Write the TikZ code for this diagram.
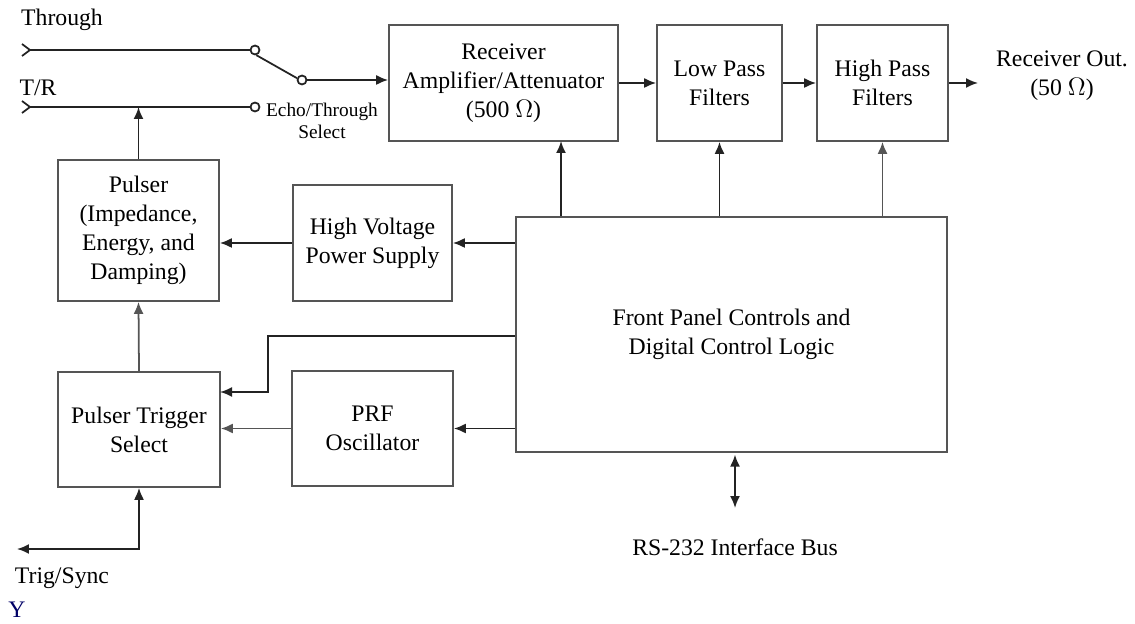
\documentclass[tikz,border=0pt]{standalone}
\usepackage{fontspec}
\setmainfont{Liberation Serif}
\usetikzlibrary{arrows.meta, positioning, calc}
\definecolor{cLine}{RGB}{35,35,35}
\definecolor{cBox}{RGB}{85,85,85}
\tikzset{
	blk/.style    ={rectangle, draw=cBox, line width=1pt, align=center, inner sep=2pt},
	sig/.style    ={-{Latex[length=2.4mm,width=2mm]}, line width=1pt, draw=cLine},
	sigboth/.style={{Latex[length=2.4mm,width=2mm]}-{Latex[length=2.4mm,width=2mm]}, line width=1pt, draw=cLine},
	wire/.style   ={line width=1pt, draw=cLine},
	port/.style   ={circle, draw=cLine, line width=1pt, minimum size=0.18cm, inner sep=0pt},
	lbl/.style    ={align=center, inner sep=1pt},
}

\begin{document}
\begin{tikzpicture}[x=0.02cm, y=-0.02cm, font=\fontsize{13.5}{16.5}\selectfont]
	\useasboundingbox (0,0) rectangle (1135,624);
	% receiver chain
	\node[blk, minimum width=4.58cm, minimum height=2.32cm] (rx)  at (503.5,83) {Receiver\\Amplifier/Attenuator\\(500 $\Omega$)};
	\node[blk, minimum width=2.5cm,  minimum height=2.32cm] (lpf) at (719.5,83) {Low Pass\\Filters};
	\node[blk, minimum width=2.62cm, minimum height=2.32cm] (hpf) at (882.5,83) {High Pass\\Filters};
	\node[lbl] (out) at (1062,76) {Receiver Out.\\(50 $\Omega$)};
	\coordinate (outend) at (978,83);
	% control and pulser blocks
	\node[blk, minimum width=8.62cm, minimum height=4.7cm]  (fp)  at (731.5,334.5) {Front Panel Controls and\\Digital Control Logic};
	\node[blk, minimum width=3.18cm, minimum height=2.32cm] (hv)  at (372.5,243) {High Voltage\\Power Supply};
	\node[blk, minimum width=3.22cm, minimum height=2.3cm]  (prf) at (372.5,428.5) {PRF\\Oscillator};
	\node[blk, minimum width=3.22cm, minimum height=2.82cm] (pul) at (138.5,230.5) {Pulser\\(Impedance,\\Energy, and\\Damping)};
	\node[blk, minimum width=3.24cm, minimum height=2.3cm]  (pts) at (139,429.5) {Pulser Trigger\\Select};
	% inputs and switch
	\node[lbl] (thrtxt) at (62,20) {Through};
	\node[lbl] (trtxt)  at (38,88) {T/R};
	\coordinate (thr) at (30,50);
	\coordinate (tr)  at (30,107);
	\node[port] (c1) at (255,50) {};
	\node[port] (c2) at (302,80) {};
	\node[port] (c3) at (255,107) {};
	\node[lbl, font=\fontsize{11}{12.5}\selectfont] (echo) at (322,121) {Echo/Through\\Select};
	\draw[wire] (22,44) -- (thr) -- (22,56);
	\draw[wire] (22,101) -- (tr) -- (22,113);
	\draw[wire] (thr) -- (c1);
	\draw[wire] (tr) -- (c3);
	\draw[wire] (c1.-75) -- (c2.160);
	\draw[sig] (c2) -- (c2 -| rx.west);
	\draw[sig] (rx) -- (lpf);
	\draw[sig] (lpf) -- (hpf);
	\draw[sig] (hpf) -- (outend);
	% control lines
	\coordinate (rxctl) at (561,141);
	\draw[sig] (fp.north -| rxctl) -- (rxctl);
	\draw[sig] (fp.north -| lpf.south) -- (lpf.south);
	\draw[sig, draw=cBox] (fp.north -| hpf.south) -- (hpf.south);
	\draw[sig] (fp.west |- hv.east) -- (hv.east);
	\draw[sig] (hv.west) -- (hv.west -| pul.east);
	\coordinate (bend)  at (268,336);
	\coordinate (ptsin) at (220,392);
	\draw[sig] (fp.west |- bend) -- (bend) |- (ptsin);
	\draw[sig] (fp.west |- prf.east) -- (prf.east);
	\draw[sig, draw=cBox] (prf.west) -- (prf.west -| pts.east);
	\draw[sig, draw=cBox] (pts.north) -- (pul.south);
	\draw[sig] (pul.north) -- (pul.north |- c3);
	% trigger and bus
	\coordinate (trigend) at (17,549);
	\draw[sigboth] (trigend) -| (pts.south);
	\node[lbl] (trig) at (62,578) {Trig/Sync};
	\node[lbl, text=blue!40!black] (ymark) at (17,610) {Y};
	\coordinate (rsend) at (735,508);
	\draw[sigboth, shorten <=1pt] (fp.south -| rsend) -- (rsend);
	\node[lbl] (rs) at (735,547) {RS-232 Interface Bus};
\end{tikzpicture}
\end{document}
